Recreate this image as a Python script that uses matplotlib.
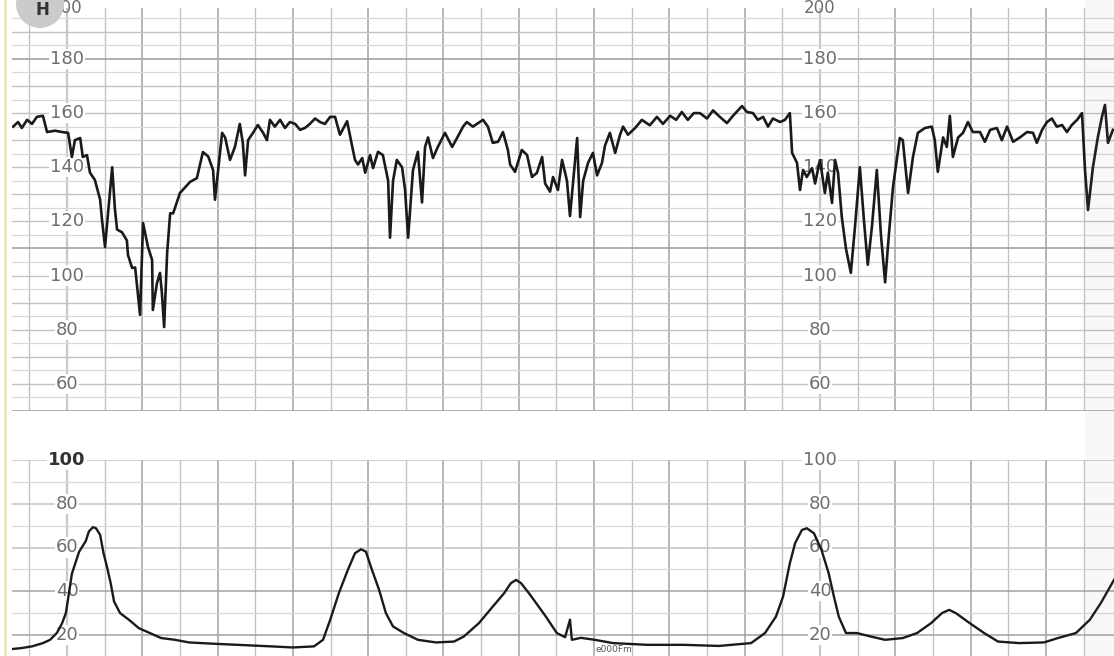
import matplotlib
matplotlib.use("Agg")
import matplotlib.pyplot as plt
from matplotlib.patches import Circle, Rectangle

# ---------------- data (time in minutes, 1 grid division = 1 min) ----------------
fhr_t = [-1.43, -1.30, -1.20, -1.06, -0.93, -0.80, -0.64, -0.53, -0.32, -0.13,
         0.03, 0.13, 0.21, 0.35, 0.42, 0.53, 0.61, 0.74, 0.88, 0.93,
         1.01, 1.20, 1.27, 1.33, 1.46, 1.59, 1.62, 1.73, 1.81, 1.94,
         2.02, 2.15, 2.26, 2.28, 2.39, 2.47, 2.52, 2.58, 2.66, 2.74,
         2.82, 3.00, 3.27, 3.45, 3.61, 3.75, 3.88, 3.93, 4.12, 4.20,
         4.33, 4.46, 4.59, 4.67, 4.73, 4.81, 4.94, 5.07, 5.21, 5.31,
         5.39, 5.52, 5.66, 5.79, 5.92, 6.06, 6.19, 6.32, 6.45, 6.59,
         6.72, 6.85, 6.99, 7.12, 7.25, 7.44, 7.57, 7.65, 7.73, 7.84,
         7.92, 8.05, 8.13, 8.26, 8.39, 8.53, 8.58, 8.66, 8.76, 8.90,
         8.98, 9.06, 9.19, 9.32, 9.43, 9.51, 9.59, 9.72, 9.85, 10.04,
         10.23, 10.36, 10.52, 10.62, 10.78, 10.92, 11.05, 11.18, 11.31, 11.45,
         11.58, 11.71, 11.77, 11.90, 12.08, 12.22, 12.35, 12.48, 12.62, 12.70,
         12.83, 12.91, 13.04, 13.15, 13.28, 13.36, 13.55, 13.63, 13.71, 13.84,
         13.97, 14.08, 14.21, 14.29, 14.42, 14.56, 14.69, 14.77, 14.90, 15.09,
         15.27, 15.48, 15.67, 15.83, 16.02, 16.18, 16.33, 16.49, 16.65, 16.81,
         17.00, 17.16, 17.34, 17.53, 17.69, 17.93, 18.06, 18.22, 18.35, 18.49,
         18.62, 18.75, 18.94, 19.07, 19.20, 19.26, 19.39, 19.47, 19.55, 19.65,
         19.79, 19.87, 20.00, 20.13, 20.21, 20.32, 20.40, 20.48, 20.58, 20.69,
         20.82, 20.93, 21.06, 21.17, 21.27, 21.38, 21.51, 21.62, 21.73, 21.83,
         21.94, 22.12, 22.20, 22.34, 22.47, 22.60, 22.79, 22.97, 23.05, 23.13,
         23.27, 23.37, 23.45, 23.53, 23.67, 23.80, 23.93, 24.06, 24.25, 24.38,
         24.52, 24.70, 24.83, 24.97, 25.13, 25.31, 25.50, 25.66, 25.76, 25.90,
         26.03, 26.16, 26.29, 26.43, 26.56, 26.69, 26.83, 26.96, 27.04, 27.12,
         27.25, 27.38, 27.49, 27.57, 27.65, 27.78]
fhr_bpm = [155.0, 156.7, 154.5, 157.5, 156.0, 158.6, 159.0, 153.0, 153.5, 153.0,
           152.7, 143.8, 150.0, 150.8, 143.8, 144.5, 138.0, 135.3, 128.0, 120.5,
           110.6, 140.0, 125.0, 117.0, 116.0, 113.0, 107.6, 102.8, 103.0, 85.5,
           119.4, 110.6, 105.8, 87.3, 97.3, 101.0, 93.6, 81.0, 108.4, 123.0,
           123.0, 130.5, 134.6, 136.0, 145.6, 144.0, 139.0, 128.0, 152.7, 151.0,
           142.7, 147.5, 156.0, 149.0, 137.0, 150.0, 152.7, 155.6, 152.7, 150.0,
           157.5, 155.0, 157.5, 154.5, 156.7, 156.0, 153.8, 154.5, 156.0, 158.0,
           156.7, 156.0, 158.6, 158.6, 152.0, 157.0, 148.0, 142.7, 141.0, 143.4,
           138.0, 144.5, 139.7, 145.7, 144.5, 135.0, 114.0, 135.0, 142.7, 140.0,
           131.6, 114.0, 139.0, 145.7, 127.0, 147.5, 151.0, 143.4, 147.5, 152.7,
           147.5, 150.8, 155.0, 156.7, 155.0, 156.3, 157.5, 155.0, 149.0, 149.4,
           153.0, 146.4, 141.0, 138.3, 146.4, 144.5, 136.4, 137.9, 143.8, 134.0,
           131.0, 136.4, 131.6, 142.7, 135.0, 122.0, 150.8, 121.6, 135.0, 141.6,
           145.3, 137.0, 141.6, 148.0, 152.7, 145.3, 152.0, 155.0, 152.0, 154.5,
           157.5, 155.5, 158.6, 156.0, 159.0, 157.5, 160.4, 157.5, 160.0, 160.0,
           158.0, 161.0, 158.6, 156.3, 159.0, 162.6, 160.4, 160.0, 157.5, 158.6,
           155.0, 158.0, 156.7, 157.5, 160.0, 145.3, 141.6, 131.6, 139.0, 136.4,
           139.7, 134.0, 142.7, 130.5, 138.0, 126.8, 142.7, 138.0, 121.6, 110.0,
           101.0, 118.0, 140.0, 120.0, 104.0, 118.0, 139.0, 115.0, 97.5, 115.0,
           132.7, 150.8, 150.0, 130.5, 143.8, 152.7, 154.5, 155.0, 150.0, 138.3,
           151.0, 147.5, 159.0, 143.8, 151.0, 152.7, 156.7, 153.0, 153.0, 149.4,
           153.8, 154.5, 150.0, 155.0, 149.4, 151.0, 153.0, 152.7, 149.0, 153.8,
           156.7, 158.0, 155.0, 155.6, 153.0, 155.6, 157.5, 160.0, 139.0, 124.2,
           140.0, 151.0, 158.6, 163.0, 149.0, 153.8]

uc_t = [-1.45, -1.22, -0.93, -0.64, -0.45, -0.27, -0.13, -0.03, 0.13, 0.32,
        0.50, 0.58, 0.69, 0.77, 0.88, 0.97, 1.06, 1.16, 1.25, 1.41,
        1.65, 1.91, 2.20, 2.50, 2.87, 3.24, 3.90, 4.67, 5.42, 6.00,
        6.56, 6.80, 6.99, 7.22, 7.46, 7.65, 7.81, 7.94, 8.07, 8.29,
        8.47, 8.66, 8.95, 9.32, 9.80, 10.28, 10.54, 10.94, 11.31, 11.61,
        11.79, 11.93, 12.06, 12.27, 12.46, 12.72, 13.01, 13.23, 13.36, 13.41,
        13.65, 14.02, 14.50, 15.43, 16.39, 17.32, 18.17, 18.54, 18.83, 19.02,
        19.20, 19.34, 19.52, 19.65, 19.84, 20.04, 20.23, 20.37, 20.50, 20.69,
        20.98, 21.35, 21.73, 22.20, 22.58, 22.95, 23.24, 23.43, 23.61, 23.98,
        24.36, 24.73, 25.29, 25.95, 26.32, 26.80, 27.17, 27.46, 27.81]
uc_val = [13.6, 14.0, 14.8, 16.3, 17.8, 20.9, 25.4, 30.0, 48.0, 58.0,
          63.0, 67.3, 69.3, 68.8, 65.8, 57.4, 51.3, 43.7, 35.3, 30.0,
          26.9, 23.1, 20.9, 18.6, 17.8, 16.6, 16.0, 15.4, 14.8, 14.3,
          14.8, 17.8, 26.9, 39.1, 49.8, 57.4, 59.2, 58.1, 51.3, 40.6,
          30.0, 23.9, 20.9, 17.8, 16.6, 17.0, 19.3, 25.4, 33.0, 39.1,
          43.7, 45.2, 43.7, 39.1, 34.6, 28.4, 20.9, 19.0, 27.0, 17.8,
          18.7, 17.8, 16.3, 15.5, 15.5, 15.0, 16.3, 20.9, 28.4, 37.6,
          52.8, 62.0, 68.0, 68.8, 66.5, 58.9, 48.3, 37.6, 28.4, 20.9,
          20.9, 19.3, 17.8, 18.6, 20.9, 25.4, 30.0, 31.5, 30.0, 25.4,
          20.9, 17.0, 16.3, 16.6, 18.6, 20.9, 27.0, 34.6, 45.2]

fhr_labels = [180, 160, 140, 120, 100, 80, 60]
fhr_top_label = "200"
uc_labels = [100, 80, 60, 40, 20]
label_cols = [0, 20]          # minutes where the scale numbers are printed

# ---------------- figure ----------------
W, H = 1114, 656
fig = plt.figure(figsize=(W / 100, H / 100), dpi=100)
fig.patch.set_facecolor("white")


def px_axes(x0, y0, x1, y1):
    return fig.add_axes([x0 / W, 1 - y1 / H, (x1 - x0) / W, (y1 - y0) / H])


XMIN, XMAX = -1.461, 27.81
ax_top = px_axes(12, 8, 1114, 411)
ax_bot = px_axes(12, 460, 1114, 656)
ax_top.set_ylim(50, 198.8)
ax_bot.set_ylim(10.4, 100)

LIGHT = "#d8d8d8"
MID = "#c2c2c2"
DARK = "#a2a2a2"

for ax in (ax_top, ax_bot):
    ax.set_xlim(XMIN, XMAX)
    for s in ax.spines.values():
        s.set_visible(False)
    ax.set_xticks([])
    ax.set_yticks([])
    for k in range(-1, 28):
        if k in label_cols:
            ax.axvline(k, color="#c8c8c8", lw=1.6, zorder=1)
        elif k % 2 == 0:
            ax.axvline(k, color=DARK, lw=1.1, zorder=1)
        else:
            ax.axvline(k, color=MID, lw=1.0, zorder=1)

for v in range(50, 200, 5):
    if v in (110, 180, 50):
        c, lw = DARK, 1.2
    elif v % 10 == 0:
        c, lw = MID, 1.0
    else:
        c, lw = LIGHT, 0.9
    ax_top.axhline(v, color=c, lw=lw, zorder=1)

for v in range(20, 101, 10):
    if v % 20 == 0:
        c, lw = (DARK if v in (40, 20) else MID), 1.1
    else:
        c, lw = LIGHT, 0.9
    ax_bot.axhline(v, color=c, lw=lw, zorder=1)

# scale numbers
for col in label_cols:
    for v in fhr_labels:
        ax_top.text(col, v, str(v), ha="center", va="center", fontsize=13,
                    color="#6e6e6e", zorder=2,
                    bbox=dict(fc="white", ec="none", pad=0.8))
    # the "200" sits at the very top edge of the strip
    ax_top.text(col, 198.8, fhr_top_label, ha="center", va="center",
                fontsize=12, color="#6e6e6e", zorder=2)
    for v in uc_labels:
        bold = (v == 100 and col == 0)
        ax_bot.text(col, v, str(v), ha="center", va="center", fontsize=13,
                    color="#333333" if bold else "#6e6e6e",
                    fontweight="bold" if bold else "normal",
                    zorder=2, bbox=dict(fc="white", ec="none", pad=0.8))

# traces
ax_top.plot(fhr_t, fhr_bpm, color="#1a1a1a", lw=1.9, zorder=4,
            solid_joinstyle="round")
ax_bot.plot(uc_t, uc_val, color="#1a1a1a", lw=1.7, zorder=4,
            solid_joinstyle="round")

# small printed note near the bottom
ax_bot.text(14.05, 12.0, "e000Fm", fontsize=6.5, color="#555555", zorder=3)

# ---------------- decorations ----------------
ov = fig.add_axes([0, 0, 1, 1], facecolor="none")
ov.set_xlim(0, W)
ov.set_ylim(H, 0)
ov.axis("off")
ov.add_patch(Circle((40, 4), 24, fc="#cbcbcb", ec="none", zorder=5))
ov.text(42, 10, "H", fontsize=12, fontweight="bold", color="#333333",
        ha="center", va="center", zorder=6)
ov.add_patch(Rectangle((4, 0), 3, H, fc="#efe4c0", ec="none", zorder=5))
ov.add_patch(Rectangle((1085, 0), 29, H, fc="#808080", alpha=0.05, ec="none",
                       zorder=5))

fig.savefig("out.png", dpi=100, facecolor="white")
